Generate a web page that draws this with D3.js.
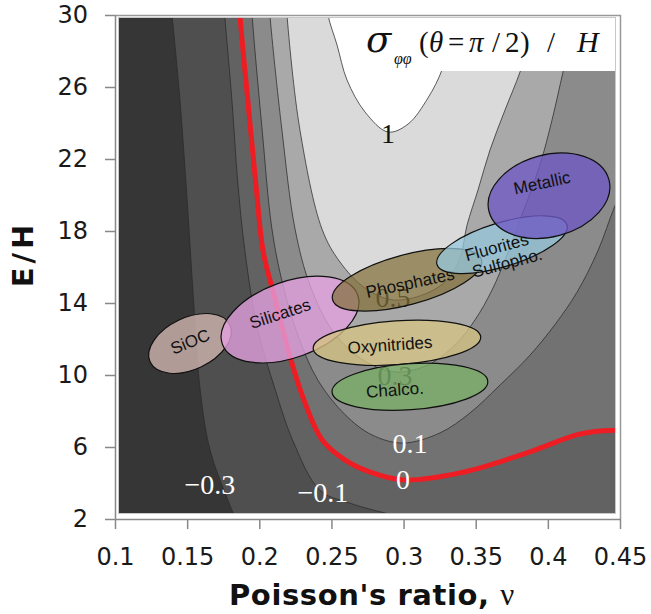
<!DOCTYPE html>
<html>
<head>
<meta charset="utf-8">
<script src="https://cdn.jsdelivr.net/npm/d3@7"></script>
<style>
  body { margin: 0; background: #fff; }
  svg { display: block; }
</style>
</head>
<body>
<svg id="chart" width="651" height="614"></svg>
<script>
// ---- axis ticks ----
const xTicks = [0.1, 0.15, 0.2, 0.25, 0.3, 0.35, 0.4, 0.45];
const yTicks = [2, 6, 10, 14, 18, 22, 26, 30];

// ---- contour levels of sigma_phiphi(theta = pi/2)/H and the band shade above each level ----
const levels = [-0.3, -0.1, 0, 0.1, 0.3, 0.5, 1];
const baseShade = "#363636";
const bandShades = ["#4f4f4f", "#626262", "#727272", "#8b8b8b", "#a9a9a9", "#dadada", "#ffffff"];

// ---- contour lines, [Poisson's ratio, E/H] ----
const lineM03 = [[0.138,31.1],[0.1395,30],[0.145,25.3],[0.15,19.7],[0.154,14.7],[0.159,9.2],[0.166,5.8],[0.178,3.1],[0.187,1.4]];
const lineM01 = [[0.175,31.1],[0.176,30],[0.181,25.3],[0.185,20.8],[0.19,16.9],[0.199,12.5],[0.211,9.2],[0.223,6.4],[0.242,3.6],[0.262,2.9],[0.294,2.2],[0.325,1.7]];
const line0   = [[0.186,31.1],[0.1866,30],[0.192,25.3],[0.198,20.3],[0.2026,16.9],[0.211,14.2],[0.221,11.1],[0.231,8.6],[0.2435,6.4],[0.259,5.3],[0.277,4.6],[0.2996,4.17],[0.339,4.56],[0.3855,5.67],[0.42,6.67],[0.436,6.89],[0.448,6.94],[0.464,6.94]];
const line01  = [[0.1943,31.1],[0.195,30],[0.202,23.6],[0.2088,18.1],[0.2164,15],[0.2268,12.2],[0.2407,9.7],[0.2594,7.8],[0.2781,6.67],[0.2996,6.22],[0.3252,6.78],[0.346,7.89],[0.3668,9.44],[0.3876,11.1],[0.4049,12.8],[0.4202,14.6],[0.4347,16.9],[0.4465,19.4],[0.4604,21.9]];
const line03  = [[0.2067,31.1],[0.2074,30],[0.2157,23.6],[0.2248,18.1],[0.2351,15],[0.2504,12.5],[0.2698,10.94],[0.2941,10.17],[0.3169,10.56],[0.3356,11.67],[0.3495,13.06],[0.3613,14.72],[0.3717,16.67],[0.3821,18.89],[0.3945,21.67],[0.4029,24.17],[0.4105,26.83],[0.4174,29.17],[0.4202,31.1]];
const line05  = [[0.2185,31.1],[0.2192,30],[0.2282,23.6],[0.2435,18.1],[0.2559,16.28],[0.2733,14.83],[0.2927,14.17],[0.3149,14.5],[0.3301,15.28],[0.3391,16.5],[0.344,18.33],[0.3516,20.28],[0.3599,22.5],[0.3703,24.72],[0.3807,26.83],[0.3876,28.61],[0.3925,31.1]];
const line1   = [[0.2462,31.1],[0.2476,30],[0.2539,28.33],[0.2608,26.39],[0.2733,24.61],[0.2892,23.5],[0.3031,23.94],[0.3169,25.39],[0.3266,26.94],[0.3322,28.61],[0.3356,31.1]];
const contourLines = [lineM03, lineM01, line0, line01, line03, line05, line1];

// ---- contour value labels, [Poisson's ratio, E/H] of each label ----
const levelLabelText = ["\u22120.3", "\u22120.1", "0", "0.1", "0.3", "0.5", "1"];
const levelLabelNu   = [0.1658, 0.2441, 0.2996, 0.3044, 0.2940, 0.2927, 0.2892];
const levelLabelEH   = [3.4, 2.96, 3.68, 5.68, 9.46, 13.79, 22.9];
const levelLabelDark = [false, false, false, false, true, true, true];

// ---- material families: centre, semi-axes (in Poisson's ratio and E/H units), tilt ----
const materials   = ["SiOC", "Silicates", "Oxynitrides", "Chalco.", "Phosphates", "Fluorites|Sulfopho.", "Metallic"];
const matNu       = [0.1520, 0.2213, 0.2954, 0.3044, 0.3024, 0.3682, 0.4008];
const matEH       = [11.75, 13.08, 11.79, 9.35, 15.29, 17.24, 19.96];
const matNuHalf   = [0.0305, 0.0499, 0.0582, 0.0541, 0.0534, 0.0471, 0.0430];
const matEHHalf   = [1.44, 2.11, 1.22, 1.28, 1.39, 1.22, 2.28];
const matTilt     = [-25, -20, -4, -4, -15, -17, -15];
const matColors   = ["rgba(205,178,172,0.82)", "rgba(228,160,224,0.78)", "rgba(214,196,132,0.78)",
                     "rgba(122,176,104,0.78)", "rgba(130,112,58,0.72)", "rgba(150,200,222,0.75)",
                     "rgba(110,88,196,0.78)"];
const matLabelDx  = [0, -10, -7, -15, 3, -3, -7];
const matLabelDy  = [-2, -6, 2, 3, 3, 11, -13];
const matLabelRot = [-22, -18, -4, -4, -12, -15, -12];

const svg = d3.select("#chart");

const x = d3.scaleLinear().domain([0.1, 0.45]).range([115, 620]);
const y = d3.scaleLinear().domain([2, 30]).range([519, 15]);

const inner = { x0: 119, y0: 18, x1: 615, y1: 513 };

svg.append("defs").append("clipPath").attr("id", "plotClip")
  .append("rect")
  .attr("x", inner.x0).attr("y", inner.y0)
  .attr("width", inner.x1 - inner.x0).attr("height", inner.y1 - inner.y0);

const plot = svg.append("g").attr("clip-path", "url(#plotClip)");

plot.append("rect")
  .attr("x", inner.x0).attr("y", inner.y0)
  .attr("width", inner.x1 - inner.x0).attr("height", inner.y1 - inner.y0)
  .attr("fill", baseShade);

const smooth = d3.line()
  .x(d => x(d[0]))
  .y(d => y(d[1]))
  .curve(d3.curveCatmullRom.alpha(0.5));

// region above each level: the contour closed round the right of the plot and over its top
const farNu = x.domain()[1] + 0.06;
const farTop = y.domain()[1] + 1.5;
contourLines.forEach((pts, i) => {
  const last = pts[pts.length - 1];
  const d = smooth(pts) +
    "L" + x(farNu) + "," + y(last[1]) +
    "L" + x(farNu) + "," + y(farTop) + "Z";
  plot.append("path").attr("d", d).attr("fill", bandShades[i]);
});

contourLines.forEach((pts, i) => {
  const isZero = levels[i] === 0;
  plot.append("path")
    .attr("d", smooth(pts))
    .attr("fill", "none")
    .attr("stroke", isZero ? "#ee1d23" : "#2a2a2a")
    .attr("stroke-opacity", isZero ? 1 : 0.75)
    .attr("stroke-width", isZero ? 5 : 1);
});

// contour value labels
levelLabelText.forEach((t, i) => {
  plot.append("text")
    .attr("x", x(levelLabelNu[i]))
    .attr("y", y(levelLabelEH[i]))
    .attr("text-anchor", "middle")
    .attr("font-family", "'Liberation Serif', 'Times New Roman', serif")
    .attr("font-size", 28)
    .attr("fill", levelLabelDark[i] ? "#111" : "#fff")
    .text(t);
});

// material family ellipses
materials.forEach((name, i) => {
  const cx = x(matNu[i]), cy = y(matEH[i]);
  const rx = x(matNu[i] + matNuHalf[i]) - cx;
  const ry = cy - y(matEH[i] + matEHHalf[i]);
  const g = plot.append("g");
  g.append("ellipse")
    .attr("cx", cx).attr("cy", cy).attr("rx", rx).attr("ry", ry)
    .attr("transform", `rotate(${matTilt[i]},${cx},${cy})`)
    .attr("fill", matColors[i])
    .attr("stroke", "#111").attr("stroke-width", 1.2);
  const lx = cx + matLabelDx[i], ly = cy + matLabelDy[i];
  const lines = name.split("|");
  const txt = g.append("text")
    .attr("transform", `translate(${lx},${ly}) rotate(${matLabelRot[i]})`)
    .attr("text-anchor", "middle")
    .attr("font-family", "'Liberation Sans', Arial, sans-serif")
    .attr("font-size", 17)
    .attr("fill", "#111");
  lines.forEach((ln, k) => {
    txt.append("tspan")
      .attr("x", k === 0 ? 0 : 6)
      .attr("y", (k - (lines.length - 1) / 2) * 18)
      .attr("dy", "0.35em")
      .text(ln);
  });
});

// formula box
plot.append("rect")
  .attr("x", 355).attr("y", inner.y0)
  .attr("width", inner.x1 - 355).attr("height", 53)
  .attr("fill", "#fff");

const title = svg.append("text")
  .attr("font-family", "'Liberation Serif', 'Times New Roman', serif")
  .attr("fill", "#111");
const titleParts = [
  { t: "\u03c3", x: 366, s: 37, it: true, dy: 0, f: "'DejaVu Serif', serif", w: "normal" },
  { t: "\u03c6\u03c6", x: 394, s: 16, it: true, dy: 12 },
  { t: "(", x: 419, s: 29, it: false, dy: 0 },
  { t: "\u03b8", x: 429, s: 29, it: true, dy: 0 },
  { t: "=", x: 448, s: 29, it: false, dy: 0 },
  { t: "\u03c0", x: 469, s: 29, it: true, dy: 0 },
  { t: "/", x: 492, s: 29, it: false, dy: 0 },
  { t: "2", x: 505, s: 29, it: false, dy: 0 },
  { t: ")", x: 520, s: 29, it: false, dy: 0 },
  { t: "/", x: 547, s: 29, it: false, dy: 0 },
  { t: "H", x: 577, s: 30, it: true, dy: 0 }
];
titleParts.forEach(p => {
  const ts = title.append("tspan")
    .attr("x", p.x).attr("y", 52 + p.dy)
    .attr("font-size", p.s)
    .attr("font-style", p.it ? "italic" : "normal")
    .text(p.t);
  if (p.f) ts.attr("font-family", p.f);
});

// frame round the plot
svg.append("rect")
  .attr("x", inner.x0 - 0.5).attr("y", inner.y0 - 0.5)
  .attr("width", inner.x1 - inner.x0 + 1).attr("height", inner.y1 - inner.y0 + 1)
  .attr("fill", "none").attr("stroke", "#c8c8c8").attr("stroke-width", 1);
svg.append("path")
  .attr("d", `M${x(0.1)},${y(30) + 0.5}H${x(0.45) + 0.5}V${y(2)}`)
  .attr("fill", "none").attr("stroke", "#999").attr("stroke-width", 1.5);

// axes
const yAxis = d3.axisLeft(y).tickValues(yTicks).tickSize(10).tickSizeOuter(0).tickPadding(17).tickFormat(d3.format("d"));
const xAxis = d3.axisBottom(x).tickValues(xTicks).tickSize(10).tickSizeOuter(0).tickPadding(19).tickFormat(d => String(d));

const gy = svg.append("g").attr("transform", `translate(${x(0.1)},0)`).call(yAxis);
const gx = svg.append("g").attr("transform", `translate(0,${y(2)})`).call(xAxis);
[gx, gy].forEach(g => {
  g.selectAll(".domain").attr("stroke", "#888").attr("stroke-width", 1.5);
  g.selectAll(".tick line").attr("stroke", "#888").attr("stroke-width", 1.5);
  g.selectAll(".tick text")
    .attr("font-family", "'DejaVu Sans', Verdana, sans-serif")
    .attr("font-size", 24)
    .attr("fill", "#1a1a1a");
});

// axis titles
svg.append("text")
  .attr("transform", "translate(33,254) rotate(-90)")
  .attr("text-anchor", "middle")
  .attr("font-family", "'DejaVu Sans', Verdana, sans-serif")
  .attr("font-weight", "bold")
  .attr("font-size", 29)
  .attr("letter-spacing", 4)
  .attr("fill", "#111")
  .text("E/H");

const xt = svg.append("text")
  .attr("x", 372).attr("y", 605)
  .attr("text-anchor", "middle")
  .attr("font-family", "'DejaVu Sans', Verdana, sans-serif")
  .attr("font-weight", "bold")
  .attr("font-size", 29)
  .attr("letter-spacing", 0.6)
  .attr("fill", "#111");
xt.append("tspan").text("Poisson's ratio, ");
xt.append("tspan").attr("font-weight", "normal")
  .attr("font-family", "'Liberation Serif', 'Times New Roman', serif")
  .attr("font-size", 31).text("\u03bd");
</script>
</body>
</html>
